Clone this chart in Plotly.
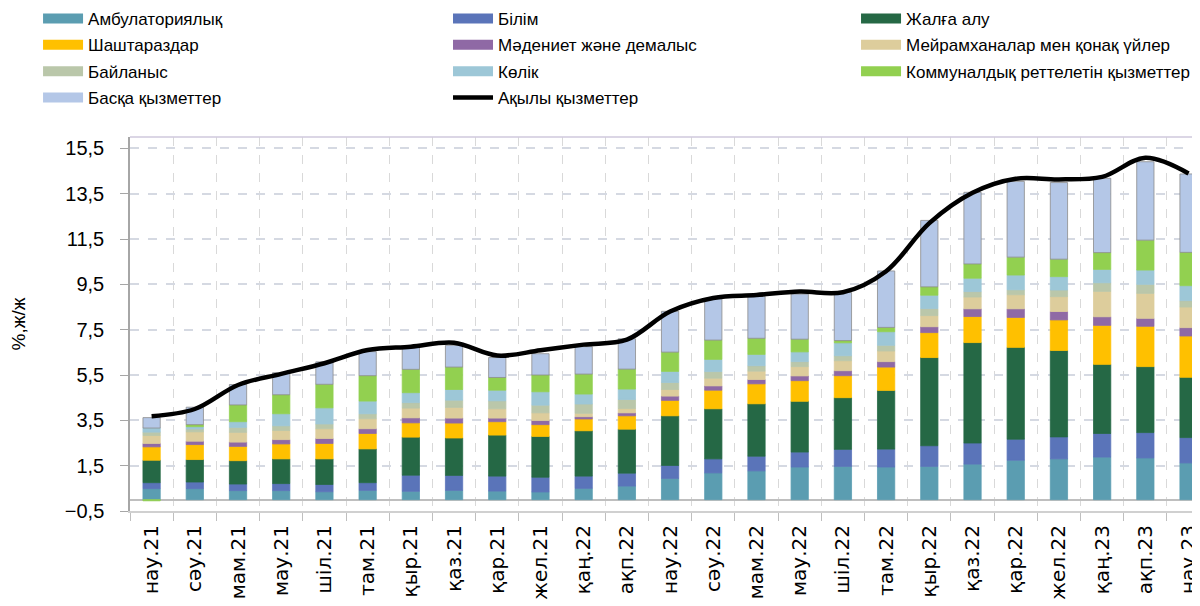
import plotly.graph_objects as go

months = [
    "нау.21", "сәу.21", "мам.21", "мау.21", "шіл.21", "там.21", "қыр.21",
    "қаз.21", "қар.21", "жел.21", "қаң.22", "ақп.22", "нау.22", "сәу.22",
    "мам.22", "мау.22", "шіл.22", "там.22", "қыр.22", "қаз.22", "қар.22",
    "жел.22", "қаң.23", "ақп.23", "нау.23",
]

ambulatory = [0.49, 0.49, 0.40, 0.40, 0.35, 0.41, 0.37, 0.41, 0.38, 0.34, 0.50, 0.60, 0.94,
              1.18, 1.27, 1.44, 1.47, 1.44, 1.47, 1.57, 1.74, 1.80, 1.88, 1.84, 1.62]
education = [0.26, 0.29, 0.29, 0.31, 0.32, 0.34, 0.71, 0.66, 0.66, 0.65, 0.54, 0.57, 0.57,
             0.62, 0.65, 0.66, 0.75, 0.79, 0.91, 0.93, 0.93, 0.97, 1.04, 1.12, 1.12]
rent = [0.99, 0.99, 1.03, 1.09, 1.13, 1.49, 1.68, 1.65, 1.81, 1.80, 2.00, 1.94, 2.19,
        2.21, 2.31, 2.24, 2.28, 2.59, 3.89, 4.43, 4.05, 3.81, 3.05, 2.91, 2.66]
hairdressers = [0.59, 0.66, 0.63, 0.66, 0.68, 0.68, 0.63, 0.66, 0.59, 0.52, 0.52, 0.59, 0.68,
                0.82, 0.88, 0.91, 0.97, 1.03, 1.10, 1.15, 1.32, 1.35, 1.72, 1.78, 1.82]
culture = [0.15, 0.15, 0.19, 0.19, 0.22, 0.21, 0.22, 0.22, 0.16, 0.18, 0.10, 0.13, 0.19,
           0.19, 0.19, 0.21, 0.22, 0.24, 0.26, 0.34, 0.38, 0.37, 0.38, 0.35, 0.37]
restaurants = [0.35, 0.41, 0.43, 0.40, 0.43, 0.44, 0.43, 0.47, 0.41, 0.34, 0.15, 0.19, 0.29,
               0.34, 0.37, 0.41, 0.44, 0.47, 0.49, 0.52, 0.62, 0.66, 1.12, 1.10, 0.91]
communication = [0.15, 0.13, 0.22, 0.21, 0.21, 0.22, 0.24, 0.32, 0.35, 0.34, 0.41, 0.40, 0.31,
                 0.29, 0.24, 0.22, 0.22, 0.25, 0.31, 0.24, 0.22, 0.29, 0.38, 0.40, 0.28]
transport = [0.18, 0.10, 0.25, 0.53, 0.71, 0.56, 0.44, 0.47, 0.47, 0.59, 0.44, 0.46, 0.49,
             0.54, 0.50, 0.43, 0.57, 0.60, 0.59, 0.59, 0.65, 0.59, 0.59, 0.63, 0.66]
utilities = [-0.05, 0.09, 0.74, 0.84, 1.04, 1.12, 1.03, 0.99, 0.56, 0.74, 0.88, 0.88, 0.85,
             0.85, 0.71, 0.56, 0.10, 0.19, 0.37, 0.63, 0.79, 0.77, 0.74, 1.32, 1.47]
other = [0.46, 0.77, 0.90, 0.97, 0.99, 1.06, 0.97, 0.96, 0.88, 0.94, 1.21, 1.34, 1.80,
         1.82, 1.85, 1.99, 2.12, 2.49, 2.93, 3.16, 3.34, 3.38, 3.28, 3.46, 3.46]
paid_services = [3.68, 4.00, 5.06, 5.55, 6.02, 6.60, 6.75, 6.92, 6.36, 6.59, 6.84, 7.06, 8.30,
                 8.90, 9.03, 9.18, 9.15, 10.08, 12.20, 13.54, 14.16, 14.13, 14.24, 15.08, 14.39]

# (name, values, colour, legend column)
components = [
    ("Амбулаториялық", ambulatory, "#5B9DB1", "legend"),
    ("Білім", education, "#5A74B9", "legend2"),
    ("Жалға алу", rent, "#256845", "legend3"),
    ("Шаштараздар", hairdressers, "#FFC000", "legend"),
    ("Мәдениет және демалыс", culture, "#8F69A5", "legend2"),
    ("Мейрамханалар мен қонақ үйлер", restaurants, "#DDCD9C", "legend3"),
    ("Байланыс", communication, "#BAC7AA", "legend"),
    ("Көлік", transport, "#9DC7D7", "legend2"),
    ("Коммуналдық реттелетін қызметтер", utilities, "#92D050", "legend3"),
    ("Басқа қызметтер", other, "#B4C7E7", "legend"),
]

fig = go.Figure()

for name, values, color, leg in components:
    border = "#8C8C8C" if name == "Басқа қызметтер" else color
    fig.add_trace(go.Bar(
        x=months, y=values, name=name, legendgroup=name, showlegend=False,
        marker=dict(color=color, line=dict(color=border, width=0.8)),
    ))
    # wide legend swatch, like the Excel one
    fig.add_trace(go.Scatter(
        x=[None], y=[None], name=name, legendgroup=name, legend=leg, mode="lines",
        line=dict(color=color, width=14),
    ))

fig.add_trace(go.Scatter(
    x=months, y=paid_services, name="Ақылы қызметтер", legendgroup="paid",
    legend="legend2", mode="lines",
    line=dict(color="black", width=4.5, shape="spline", smoothing=1),
))

legend_style = dict(
    orientation="v", xanchor="left", yanchor="top", y=1.364,
    itemwidth=40, tracegroupgap=1.3, bgcolor="rgba(0,0,0,0)",
    font=dict(family="Liberation Sans Narrow, Liberation Sans, sans-serif", size=17),
)

fig.update_layout(
    width=1200, height=606,
    margin=dict(l=122, r=0, t=129, b=103, autoexpand=False),
    paper_bgcolor="white", plot_bgcolor="white",
    barmode="relative", bargap=0.6,
    separators=", ",
    font=dict(family="Liberation Sans Narrow, Liberation Sans, sans-serif", size=16, color="black"),
    legend=dict(x=-0.0853, **legend_style),
    legend2=dict(x=0.295, **legend_style),
    legend3=dict(x=0.6735, **legend_style),
    showlegend=True,
)

fig.update_xaxes(
    range=[-0.5, 24.45], tickson="boundaries",
    showgrid=True, gridcolor="#D9D9D9", griddash="dash", gridwidth=1.3,
    showline=True, linecolor="#D0D0D0", linewidth=2,
    ticks="outside", ticklen=8, tickcolor="#BFBFBF",
    tickangle=-90, tickfont=dict(family="DejaVu Sans", size=20), ticklabelstandoff=4,
)

fig.update_yaxes(
    range=[-0.5, 16], tick0=-0.5, dtick=2, tickformat=".1f",
    showgrid=True, gridcolor="#D5D9E2", griddash="dash", gridwidth=1.5,
    zeroline=True, zerolinecolor="#BFBFBF", zerolinewidth=1.5,
    showline=True, linecolor="#A6A6A6", linewidth=1.5,
    ticks="outside", ticklen=8, tickcolor="#A6A6A6",
    tickfont=dict(size=20), ticklabelstandoff=12,
    title=dict(text="%,ж/ж", font=dict(size=19), standoff=34),
)

fig.add_shape(type="line", xref="paper", yref="paper", x0=0, x1=1, y0=1, y1=1,
              line=dict(color="#CFC8DC", width=1.5))

fig.write_html("out.html")
